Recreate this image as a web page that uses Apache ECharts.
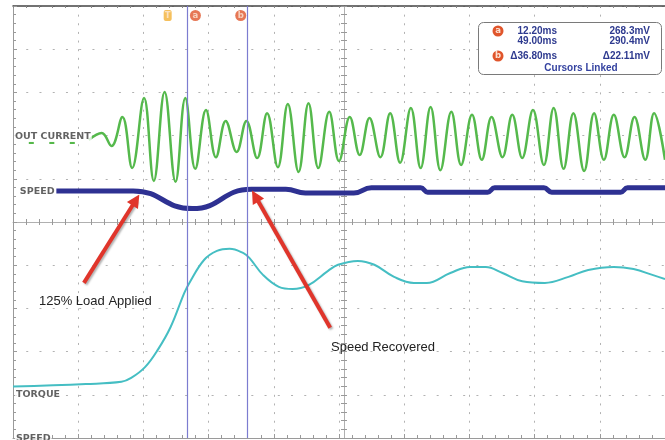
<!DOCTYPE html>
<html><head><meta charset="utf-8">
<script src="https://cdn.jsdelivr.net/npm/echarts@6/dist/echarts.min.js"></script>
<style>html,body{margin:0;padding:0;background:#fff}#c{width:665px;height:440px}</style>
</head><body><div id="c"></div>
<script>
// Time axis: ms from the left edge of the screen (40 ms/div). Vertical axis: screen divisions (0..10).
const TRIGGER_MS = 94.9;
const cursorTimes = [12.2, 49.0];               // ms after trigger
const cursorTimeText = ['12.20ms', '49.00ms', '\u039436.80ms'];
const cursorVoltText = ['268.3mV', '290.4mV', '\u039422.11mV'];

const currentT = [46.5, 54.4, 60.4, 67.1, 73.1, 80.4, 86.4, 93.0, 99.7, 105.7, 111.8, 118.4, 124.5, 130.5, 137.2, 143.2, 149.8, 155.9, 162.5, 168.6, 175.2, 181.3, 187.3, 194.0, 200.0, 206.6, 212.7, 218.7, 225.4, 231.4, 237.5, 244.1, 250.1, 256.2, 262.2, 268.9, 274.9, 281.6, 287.6, 293.6, 300.3, 306.3, 312.4, 319.0, 325.7, 331.7, 337.8, 343.8, 350.4, 356.5, 362.5, 368.6, 375.2, 381.3, 387.9, 393.3, 400.0];
const currentV = [6.90, 7.06, 6.76, 7.43, 6.25, 7.87, 5.95, 8.01, 5.93, 7.87, 6.23, 7.59, 6.50, 7.34, 6.62, 7.34, 6.48, 7.52, 6.27, 7.73, 6.16, 7.75, 6.25, 7.55, 6.41, 7.43, 6.55, 7.41, 6.50, 7.52, 6.37, 7.64, 6.25, 7.66, 6.20, 7.55, 6.32, 7.48, 6.44, 7.43, 6.50, 7.48, 6.48, 7.59, 6.32, 7.64, 6.23, 7.52, 6.18, 7.52, 6.44, 7.48, 6.50, 7.43, 6.44, 7.52, 6.44];
const currentIdleT = [9.7, 39.3];
const currentIdleV = [6.83, 6.83];

const speedT = [26.6, 73.7, 110.0, 146.2, 167.4, 179.4, 209.1, 219.9, 250.1, 254.4, 291.2, 295.5, 325.7, 330.5, 372.8, 377.0, 400.0];
const speedV = [5.72, 5.72, 5.31, 5.76, 5.76, 5.67, 5.67, 5.79, 5.79, 5.69, 5.69, 5.79, 5.79, 5.69, 5.69, 5.79, 5.79];

const torqueT = [0, 44.7, 66.5, 72.5, 81.0, 88.8, 96.7, 105.1, 108.2, 117.2, 125.1, 132.9, 141.4, 145.0, 153.5, 163.1, 171.6, 181.3, 193.3, 199.4, 211.5, 221.7, 233.8, 245.9, 253.8, 268.3, 280.4, 290.0, 300.3, 312.4, 326.3, 340.8, 352.9, 368.6, 380.7, 392.7, 400];
const torqueV = [1.19, 1.25, 1.30, 1.39, 1.64, 2.04, 2.57, 3.36, 3.59, 4.12, 4.33, 4.38, 4.28, 4.17, 3.77, 3.50, 3.45, 3.54, 3.87, 4.01, 4.10, 4.01, 3.73, 3.59, 3.59, 3.82, 3.96, 3.96, 3.82, 3.63, 3.59, 3.73, 3.89, 3.96, 3.91, 3.77, 3.68];

const channelNames = ['OUT CURRENT', 'SPEED', 'TORQUE', 'SPEED'];
const annotationTexts = ['125% Load Applied', 'Speed Recovered'];
const markerLetters = ['T', 'a', 'b'];

const zip = (a, b) => a.map((v, i) => [v, b[i]]);

const chanAnchors = [[0.6, 6.98], [3.6, 5.71], [1.2, 1.0], [1.2, -0.01]];
const dots = '#b2b2b2';
const xBase = { type: 'value', min: 0, max: 400, gridIndex: 0, axisLabel: { show: false }, splitLine: { show: false } };
const yBase = { type: 'value', min: 0, max: 10, gridIndex: 0, axisLabel: { show: false }, splitLine: { show: false } };
const blue = '#2e3a8f';
const boxFont = 'bold 10px "Liberation Sans", Arial, sans-serif';
const rowsY = [31, 41.5, 56];

const graphic = [
  { type: 'rect', x: 478.5, y: 22.5, shape: { width: 183, height: 52, r: 5 }, style: { fill: '#fff', stroke: '#7a7a7a', lineWidth: 1 }, z: 100 },
  { type: 'circle', shape: { cx: 498, cy: 31, r: 5.5 }, style: { fill: '#e0552b' }, z: 101 },
  { type: 'text', x: 498, y: 31, style: { text: 'a', fill: '#fde0d0', font: 'bold 8.5px "DejaVu Sans"', align: 'center', verticalAlign: 'middle' }, z: 102 },
  { type: 'circle', shape: { cx: 498, cy: 56, r: 5.5 }, style: { fill: '#e0552b' }, z: 101 },
  { type: 'text', x: 498, y: 56, style: { text: 'b', fill: '#fde0d0', font: 'bold 8.5px "DejaVu Sans"', align: 'center', verticalAlign: 'middle' }, z: 102 },
  { type: 'text', x: 581, y: 68, style: { text: 'Cursors Linked', fill: '#3442a0', font: 'bold 10px "Liberation Sans", Arial, sans-serif', align: 'center', verticalAlign: 'middle' }, z: 102 },
  { type: 'text', x: 39, y: 301, style: { text: annotationTexts[0], fill: '#222', font: '13px "Liberation Sans", Arial, sans-serif', align: 'left', verticalAlign: 'middle' }, z: 50 },
  { type: 'text', x: 331, y: 347.5, style: { text: annotationTexts[1], fill: '#222', font: '13px "Liberation Sans", Arial, sans-serif', align: 'left', verticalAlign: 'middle' }, z: 50 }
];
cursorTimeText.forEach((t, i) => graphic.push({ type: 'text', x: 557, y: rowsY[i], style: { text: t, fill: blue, font: boxFont, align: 'right', verticalAlign: 'middle' }, z: 102 }));
cursorVoltText.forEach((t, i) => graphic.push({ type: 'text', x: 650, y: rowsY[i], style: { text: t, fill: blue, font: boxFont, align: 'right', verticalAlign: 'middle' }, z: 102 }));

const markerPos = [TRIGGER_MS, TRIGGER_MS + cursorTimes[0] + 4.8, TRIGGER_MS + cursorTimes[1] - 4.2];

const option = {
  animation: false,
  backgroundColor: '#fff',
  grid: { left: 13, top: 6, width: 662, height: 432 },
  xAxis: [
    { ...xBase, position: 'bottom', interval: 40,
      axisLine: { show: true, onZero: false, lineStyle: { color: '#9a9a9a', width: 1 } },
      axisTick: { show: true, inside: true, length: 4, lineStyle: { color: '#9a9a9a' } },
      minorTick: { show: true, splitNumber: 5, length: 3, lineStyle: { color: '#9a9a9a' } },
      splitLine: { show: true, lineStyle: { color: dots, width: 1, type: [2, 6.64] } } },
    { ...xBase, position: 'bottom', offset: -216, interval: 8,
      axisLine: { show: true, onZero: false, lineStyle: { color: '#b0b0b0', width: 1 } },
      axisTick: { show: true, inside: true, length: 3, lineStyle: { color: '#999' } } },
    { ...xBase, position: 'bottom', offset: -216, interval: 8,
      axisLine: { show: false, onZero: false },
      axisTick: { show: true, inside: false, length: 3, lineStyle: { color: '#999' } } },
    { ...xBase, position: 'top', interval: 8,
      axisLine: { show: true, onZero: false, lineStyle: { color: '#444', width: 1.5 } },
      axisTick: { show: true, inside: true, length: 2, lineStyle: { color: '#888' } } }
  ],
  yAxis: [
    { ...yBase, position: 'left', interval: 1,
      axisLine: { show: true, onZero: false, lineStyle: { color: '#9a9a9a', width: 1 } },
      axisTick: { show: true, inside: true, length: 4, lineStyle: { color: '#9a9a9a' } },
      minorTick: { show: true, splitNumber: 5, length: 3, lineStyle: { color: '#9a9a9a' } },
      splitLine: { show: true, lineStyle: { color: dots, width: 1, type: [2, 11.24] } } },
    { ...yBase, position: 'left', offset: -331, interval: 0.2,
      axisLine: { show: true, onZero: false, lineStyle: { color: '#b0b0b0', width: 1 } },
      axisTick: { show: true, inside: true, length: 3, lineStyle: { color: '#999' } } },
    { ...yBase, position: 'left', offset: -331, interval: 0.2,
      axisLine: { show: false, onZero: false },
      axisTick: { show: true, inside: false, length: 3, lineStyle: { color: '#999' } } }
  ],
  series: [
    { type: 'line', name: 'currentIdle', data: zip(currentIdleT, currentIdleV), showSymbol: false, silent: true,
      lineStyle: { color: '#55b84a', width: 2.2, type: [5, 15.5] } },
    { type: 'line', name: 'OUT CURRENT', data: zip(currentT, currentV), smooth: 0.4, showSymbol: false, silent: true,
      lineStyle: { color: '#55b94c', width: 2.5 } },
    { type: 'line', name: 'SPEED', data: zip(speedT, speedV), smooth: 0.5, smoothMonotone: 'x', showSymbol: false, silent: true,
      lineStyle: { color: '#2e3192', width: 5 } },
    { type: 'line', name: 'TORQUE', data: zip(torqueT, torqueV), smooth: 0.4, showSymbol: false, silent: true,
      lineStyle: { color: '#45bec3', width: 2 } },
    { type: 'line', name: 'cursors', data: [], z: 4, silent: true,
      markLine: { silent: true, animation: false, symbol: ['none', 'none'], label: { show: false },
        lineStyle: { color: '#7c7cd0', width: 1.2, type: 'solid' },
        data: cursorTimes.map(t => ({ xAxis: TRIGGER_MS + t })) } },
    { type: 'line', name: 'arrows', data: [], z: 6, silent: true,
      markLine: { silent: true, animation: false, symbol: ['none', 'triangle'], symbolSize: 13, label: { show: false },
        lineStyle: { color: '#e0352b', width: 4, type: 'solid', shadowColor: 'rgba(0,0,0,0.3)', shadowBlur: 2, shadowOffsetX: 1.5, shadowOffsetY: 1.5 },
        data: [
          [{ coord: [43.5, 3.59] }, { coord: [75.4, 5.51] }],
          [{ coord: [194.6, 2.55] }, { coord: [148.6, 5.60] }]
        ] } },
    { type: 'scatter', name: 'markers', z: 7, silent: true, clip: false,
      data: markerLetters.map((l, i) => ({
        value: [markerPos[i], 9.78], name: l,
        symbol: i === 0 ? 'roundRect' : 'circle',
        symbolSize: i === 0 ? [8, 11] : 11,
        itemStyle: { color: i === 0 ? '#f2b035' : '#e0552b' }
      })),
      label: { show: true, position: 'inside', formatter: '{b}', color: '#fde8d8', fontSize: 8.5, fontWeight: 'bold', fontFamily: 'DejaVu Sans' } },
    { type: 'scatter', name: 'channelLabels', z: 8, silent: true, clip: false, symbolSize: 0,
      data: channelNames.map((n, i) => ({ value: chanAnchors[i], name: n })),
      label: { show: true, position: 'right', distance: 0, formatter: '{b}', color: '#3b3b3b', fontSize: 9.5, fontWeight: 'bold',
        fontFamily: '"DejaVu Sans", Verdana, sans-serif', backgroundColor: '#fff', padding: [1, 1, 0, 1] } }
  ],
  graphic: graphic
};

const chart = echarts.init(document.getElementById('c'));
chart.setOption(option);
</script>
</body></html>
